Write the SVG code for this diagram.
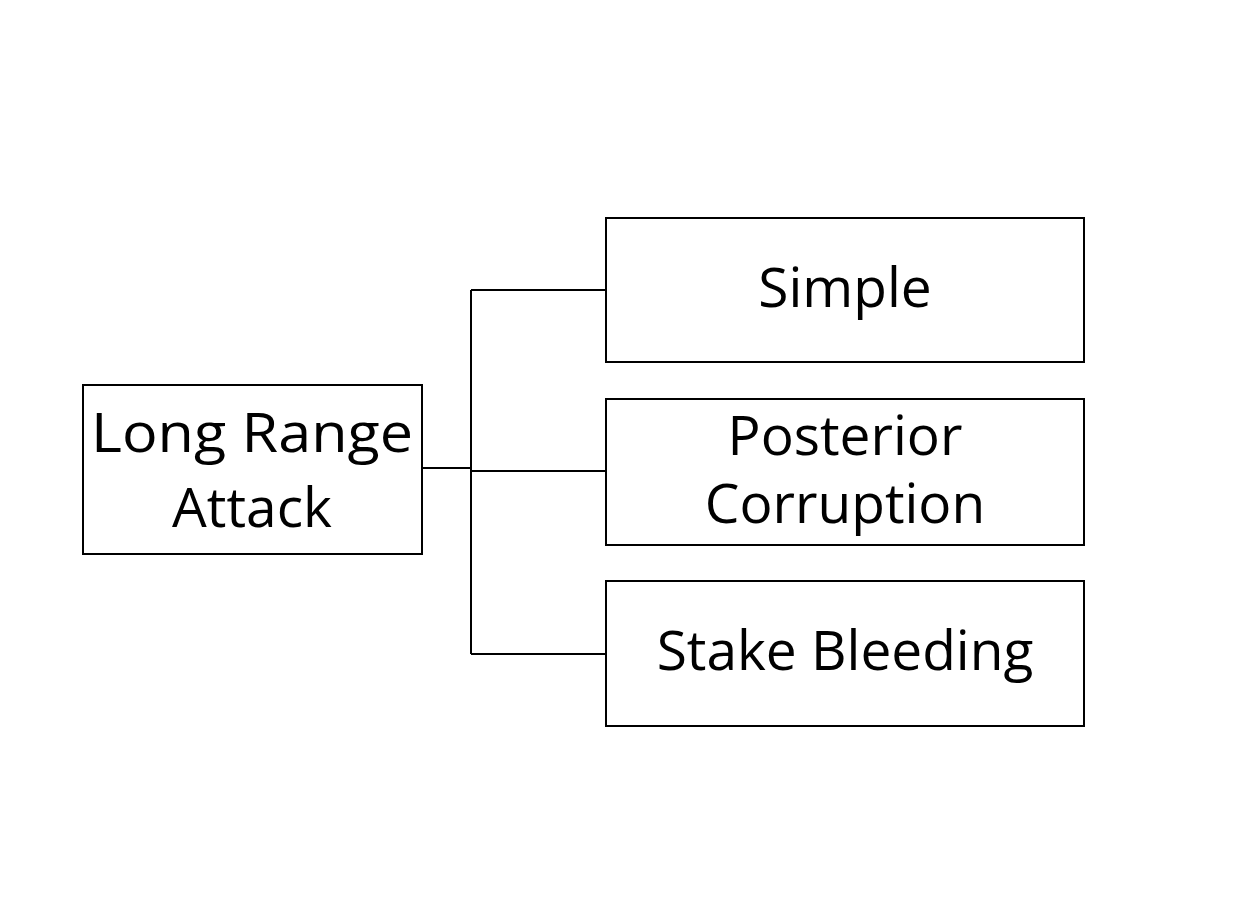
<svg xmlns="http://www.w3.org/2000/svg" width="1248" height="916" viewBox="0 0 1248 916">
<style>
.box{fill:#fff;stroke:#000;stroke-width:2}
.lbl{font-family:"Open Sans","Noto Sans",sans-serif;font-size:55px;fill:#000;text-anchor:middle}
.con{fill:none;stroke:#000;stroke-width:2}
</style>
<rect width="1248" height="916" fill="#fff"/>
<g id="connectors">
<path class="con" d="M422 468H471"/>
<path class="con" d="M471 290V654"/>
<path class="con" d="M471 290H606M471 471H606M471 654H606"/>
</g>
<g id="long-range-attack">
<rect class="box" x="83" y="385" width="339" height="169"/>
<text class="lbl" x="252" y="452" textLength="322" lengthAdjust="spacingAndGlyphs">Long Range</text>
<text class="lbl" x="252" y="527">Attack</text>
</g>
<g id="simple">
<rect class="box" x="606" y="218" width="478" height="144"/>
<text class="lbl" x="845" y="307">Simple</text>
</g>
<g id="posterior-corruption">
<rect class="box" x="606" y="399" width="478" height="146"/>
<text class="lbl" x="845" y="455">Posterior</text>
<text class="lbl" x="845" y="523">Corruption</text>
</g>
<g id="stake-bleeding">
<rect class="box" x="606" y="581" width="478" height="145"/>
<text class="lbl" x="845" y="670">Stake Bleeding</text>
</g>
</svg>
